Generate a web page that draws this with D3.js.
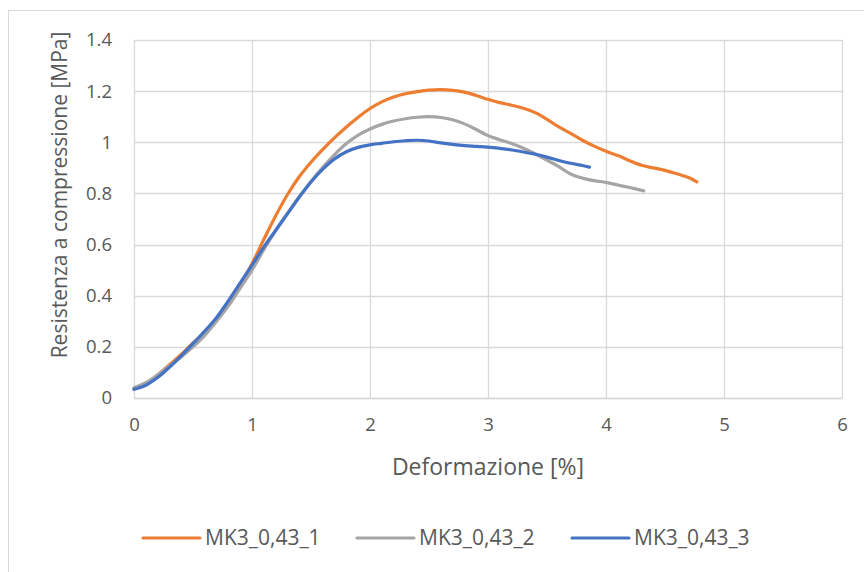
<!DOCTYPE html>
<html>
<head>
<meta charset="utf-8">
<script src="https://cdn.jsdelivr.net/npm/d3@7"></script>
<style>
  html, body { margin: 0; padding: 0; background: #ffffff; }
  svg { display: block; }
  text { font-family: "Open Sans", "Noto Sans", sans-serif; fill: #595959; }
</style>
</head>
<body>
<svg id="chart" width="864" height="572"></svg>
<script>
// Compression tests: stress vs strain for three MK3 specimens (w/b 0.43)
const strain1 = [0, 0.1, 0.2, 0.3, 0.4, 0.5, 0.6, 0.7, 0.8, 0.9, 1.0, 1.1, 1.2, 1.3, 1.4, 1.5, 1.6, 1.7, 1.8, 1.9, 2.0, 2.1, 2.2, 2.3, 2.4, 2.5, 2.6, 2.7, 2.8, 2.9, 3.0, 3.1, 3.2, 3.3, 3.4, 3.5, 3.6, 3.7, 3.8, 3.9, 4.0, 4.1, 4.2, 4.3, 4.4, 4.5, 4.6, 4.7, 4.77];
const stress1 = [0.035, 0.055, 0.09, 0.13, 0.17, 0.215, 0.255, 0.305, 0.37, 0.44, 0.525, 0.62, 0.712, 0.795, 0.865, 0.922, 0.972, 1.018, 1.06, 1.098, 1.132, 1.158, 1.177, 1.19, 1.198, 1.204, 1.206, 1.203, 1.196, 1.183, 1.168, 1.155, 1.145, 1.133, 1.116, 1.09, 1.06, 1.035, 1.008, 0.985, 0.965, 0.948, 0.928, 0.91, 0.90, 0.89, 0.877, 0.862, 0.845];

const strain2 = [0, 0.1, 0.2, 0.3, 0.4, 0.5, 0.6, 0.7, 0.8, 0.9, 1.0, 1.1, 1.2, 1.3, 1.4, 1.5, 1.6, 1.7, 1.8, 1.9, 2.0, 2.1, 2.2, 2.3, 2.4, 2.5, 2.6, 2.7, 2.8, 2.9, 3.0, 3.1, 3.2, 3.3, 3.4, 3.5, 3.6, 3.7, 3.8, 3.9, 4.0, 4.1, 4.2, 4.32];
const stress2 = [0.04, 0.06, 0.09, 0.125, 0.16, 0.20, 0.245, 0.30, 0.36, 0.43, 0.50, 0.58, 0.655, 0.722, 0.787, 0.847, 0.902, 0.952, 0.995, 1.028, 1.052, 1.07, 1.083, 1.092, 1.098, 1.10, 1.097, 1.088, 1.072, 1.05, 1.026, 1.01, 0.995, 0.977, 0.955, 0.93, 0.905, 0.876, 0.86, 0.85, 0.843, 0.833, 0.823, 0.81];

const strain3 = [0, 0.1, 0.2, 0.3, 0.4, 0.5, 0.6, 0.7, 0.8, 0.9, 1.0, 1.1, 1.2, 1.3, 1.4, 1.5, 1.6, 1.7, 1.8, 1.9, 2.0, 2.1, 2.2, 2.3, 2.4, 2.5, 2.6, 2.7, 2.8, 2.9, 3.0, 3.1, 3.2, 3.3, 3.4, 3.5, 3.6, 3.7, 3.8, 3.86];
const stress3 = [0.034, 0.05, 0.08, 0.12, 0.165, 0.213, 0.262, 0.315, 0.38, 0.45, 0.52, 0.59, 0.655, 0.72, 0.785, 0.845, 0.895, 0.935, 0.963, 0.98, 0.99, 0.996, 1.002, 1.006, 1.008, 1.005, 0.998, 0.992, 0.987, 0.984, 0.981, 0.976, 0.97, 0.962, 0.953, 0.942, 0.929, 0.918, 0.909, 0.903];

const seriesNames = ["MK3_0,43_1", "MK3_0,43_2", "MK3_0,43_3"];
const seriesColors = ["#ED7D31", "#A5A5A5", "#4472C4"];
const xTicks = [0, 1, 2, 3, 4, 5, 6];
const yTicks = [0, 0.2, 0.4, 0.6, 0.8, 1, 1.2, 1.4];
const xTitle = "Deformazione [%]";
const yTitle = "Resistenza a compressione [MPa]";

const series = [
  { name: seriesNames[0], color: seriesColors[0], x: strain1, y: stress1 },
  { name: seriesNames[1], color: seriesColors[1], x: strain2, y: stress2 },
  { name: seriesNames[2], color: seriesColors[2], x: strain3, y: stress3 }
];

const svg = d3.select("#chart");
const plot = { left: 134, right: 842, top: 40, bottom: 398 };

// Chart frame (runs past the right and bottom edges)
svg.append("rect")
  .attr("x", 8.5).attr("y", 10.5)
  .attr("width", 900).attr("height", 600)
  .attr("fill", "#ffffff")
  .attr("stroke", "#D9D9D9").attr("stroke-width", 1);

const x = d3.scaleLinear().domain([0, 6]).range([plot.left, plot.right]);
const y = d3.scaleLinear().domain([0, 1.4]).range([plot.bottom, plot.top]);

// Gridlines
const grid = svg.append("g");
grid.selectAll("line.h").data(yTicks).join("line")
  .attr("x1", plot.left).attr("x2", plot.right)
  .attr("y1", d => Math.round(y(d)) + 0.5).attr("y2", d => Math.round(y(d)) + 0.5)
  .attr("stroke", "#D9D9D9").attr("stroke-width", 1.3);
grid.selectAll("line.v").data(xTicks).join("line")
  .attr("y1", plot.top).attr("y2", plot.bottom)
  .attr("x1", d => Math.round(x(d)) + 0.5).attr("x2", d => Math.round(x(d)) + 0.5)
  .attr("stroke", "#D9D9D9").attr("stroke-width", 1.3);

// Axes (labels only, Excel-style)
const xAxis = svg.append("g")
  .attr("transform", `translate(0,${plot.bottom})`)
  .call(d3.axisBottom(x).tickValues(xTicks).tickSize(0).tickPadding(20).tickFormat(d3.format("d")));
xAxis.select(".domain").attr("stroke", "#D9D9D9").attr("stroke-width", 1.3);
xAxis.selectAll("text").style("font-size", "18.5px").attr("fill", "#595959");

const yAxis = svg.append("g")
  .attr("transform", `translate(${plot.left},0)`)
  .call(d3.axisLeft(y).tickValues(yTicks).tickSize(0).tickPadding(22).tickFormat(d => d3.format("")(+d.toFixed(1))));
yAxis.select(".domain").remove();
yAxis.selectAll("text").style("font-size", "18.5px").attr("fill", "#595959");

// Axis titles
svg.append("text")
  .attr("x", 488).attr("y", 475)
  .attr("text-anchor", "middle")
  .style("font-size", "23px")
  .text(xTitle);

svg.append("text")
  .attr("transform", `translate(67,195) rotate(-90)`)
  .attr("text-anchor", "middle")
  .style("font-size", "21px")
  .text(yTitle);

// Series lines
const line = d3.line()
  .x(d => x(d[0]))
  .y(d => y(d[1]))
  .curve(d3.curveCatmullRom.alpha(0.5));

svg.append("g").selectAll("path").data(series).join("path")
  .attr("d", s => line(s.x.map((v, i) => [v, s.y[i]])))
  .attr("fill", "none")
  .attr("stroke", s => s.color)
  .attr("stroke-width", 3.2)
  .attr("stroke-linecap", "round")
  .attr("stroke-linejoin", "round");

// Legend
const legendX = [143, 357, 572];
const legend = svg.append("g").selectAll("g").data(series).join("g")
  .attr("transform", (s, i) => `translate(${legendX[i]},538)`);
legend.append("line")
  .attr("x1", 0).attr("x2", 57).attr("y1", 0).attr("y2", 0)
  .attr("stroke", s => s.color).attr("stroke-width", 3.2).attr("stroke-linecap", "round");
legend.append("text")
  .attr("x", 62).attr("y", 0).attr("dy", "0.35em")
  .style("font-size", "21px")
  .text(s => s.name);
</script>
</body>
</html>
